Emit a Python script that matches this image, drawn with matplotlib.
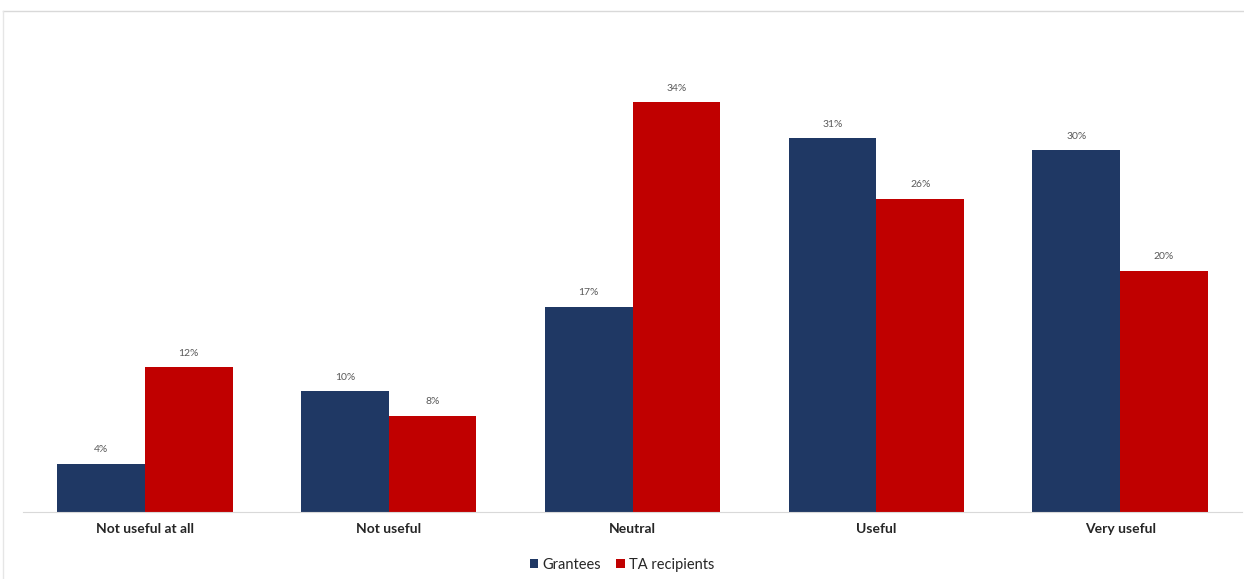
import matplotlib.pyplot as plt
from matplotlib.lines import Line2D
import numpy as np

categories = ["Not useful at all", "Not useful", "Neutral", "Useful", "Very useful"]
grantees = [4, 10, 17, 31, 30]
ta_recipients = [12, 8, 34, 26, 20]

navy = "#1F3864"
red = "#C00000"

plt.rcParams['font.family'] = ['Lato', 'DejaVu Sans']

fig = plt.figure(figsize=(12.44, 5.79), dpi=100)
W, H = 1244, 579
ax = fig.add_axes([23 / W, 67 / H, (1242 - 23) / W, (512 - 54) / H])

x = np.arange(len(categories))
width = 0.36
b1 = ax.bar(x - width / 2, grantees, width, color=navy, label="Grantees")
b2 = ax.bar(x + width / 2, ta_recipients, width, color=red, label="TA recipients")

for bars, vals in ((b1, grantees), (b2, ta_recipients)):
    for rect, v in zip(bars, vals):
        ax.text(rect.get_x() + rect.get_width() / 2, v + 0.8, f"{v}%",
                ha="center", va="bottom", fontsize=7.5, color="#595959")

ax.set_xlim(-0.5, 4.5)
ax.set_ylim(0, 38)
ax.set_xticks(x)
ax.set_xticklabels(categories, fontsize=10, fontweight="bold", color="#262626")
ax.tick_params(axis="x", length=0, pad=8)
ax.set_yticks([])
for s in ["top", "right", "left"]:
    ax.spines[s].set_visible(False)
ax.spines["bottom"].set_color("#D9D9D9")

leg = fig.legend(loc="center", bbox_to_anchor=(0.5, 1 - 565 / H), ncol=2, frameon=False,
                 fontsize=10.5, handlelength=0.6, handleheight=0.6, handletextpad=0.3,
                 columnspacing=1.0)
for t in leg.get_texts():
    t.set_color("#262626")

# light frame: top and left edges only
y_top = 1 - 11 / H
x_left = 3 / W
fig.add_artist(Line2D([x_left, 1], [y_top, y_top], transform=fig.transFigure,
                      color="#D9D9D9", linewidth=1))
fig.add_artist(Line2D([x_left, x_left], [0, y_top], transform=fig.transFigure,
                      color="#E6E6E6", linewidth=1))

fig.savefig("out.png", dpi=100)
